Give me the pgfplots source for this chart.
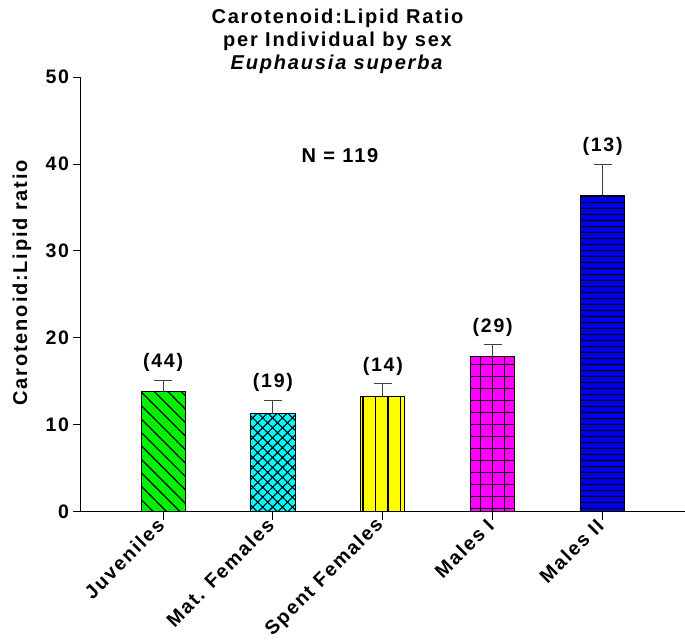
\documentclass[border=0pt]{standalone}
\usepackage{fontspec}
\setmainfont{Liberation Sans}[LetterSpace=9]
\usepackage{pgfplots}
\usepackage{pgfplotstable}
\pgfplotsset{compat=1.18}
\usetikzlibrary{patterns.meta}
\definecolor{bargreen}{RGB}{0,240,0}
\definecolor{barcyan}{RGB}{0,255,255}
\definecolor{baryellow}{RGB}{255,255,0}
\definecolor{barmagenta}{RGB}{255,0,255}
\definecolor{barblue}{RGB}{0,0,230}
\pgfplotstableread{
x y err top n
0 13.8 1.3 15.1 (44)
1 11.3 1.5 12.8 (19)
2 13.25 1.45 14.7 (14)
3 17.85 1.35 19.2 (29)
4 36.4 3.6 40.0 (13)
}\datatable
\begin{document}
\begin{tikzpicture}
\begin{axis}[
  name=ax,
  scale only axis,
  width=603.5pt, height=434pt,
  xmin=-0.75, xmax=4.75,
  ymin=0, ymax=50,
  axis lines=left,
  axis line style={-, line width=1pt, black},
  tick align=outside,
  major tick length=8pt,
  tick style={line width=1pt, black},
  xtick={0,1,2,3,4},
  xticklabels={Juveniles, Mat. Females, Spent Females, Males I, Males II},
  x tick label style={rotate=45, anchor=east, font=\bfseries\fontsize{19.5}{22}\selectfont},
  ytick={0,10,20,30,40,50},
  y tick label style={font=\bfseries\fontsize{19.5}{22}\selectfont},
  /pgf/number format/assume math mode=true,
  ylabel={Carotenoid:Lipid ratio},
  ylabel style={font=\bfseries\fontsize{20}{22}\selectfont, at={(axis description cs:-0.097,0.527)}, anchor=center},
  clip=false,
  error bars/error bar style={line width=1pt, black!75},
  error bars/error mark options={rotate=90, mark size=9pt, line width=1pt, black!75},
]
\addplot[ybar, bar width=44pt, fill=bargreen, draw=black, line width=0.8pt,
  postaction={pattern={Lines[angle=-45,distance=9.5pt,line width=1.2pt]}},
  error bars/.cd, y dir=plus, y explicit]
  coordinates {(0,13.8) +- (0,1.3)};
\addplot[ybar, bar width=44pt, fill=barcyan, draw=black, line width=0.8pt,
  postaction={pattern={Hatch[angle=45,distance=7pt,line width=1.1pt]}},
  error bars/.cd, y dir=plus, y explicit]
  coordinates {(1,11.3) +- (0,1.5)};
\addplot[ybar, bar width=44pt, fill=baryellow, draw=black, line width=0.8pt,
  postaction={pattern={Lines[angle=90,distance=12.5pt,line width=1.2pt]}},
  error bars/.cd, y dir=plus, y explicit]
  coordinates {(2,13.25) +- (0,1.45)};
\addplot[ybar, bar width=44pt, fill=barmagenta, draw=black, line width=0.8pt,
  postaction={pattern={Hatch[angle=0,distance=12pt,line width=1.2pt]}},
  error bars/.cd, y dir=plus, y explicit]
  coordinates {(3,17.85) +- (0,1.35)};
\addplot[ybar, bar width=44pt, fill=barblue, draw=black, line width=0.8pt,
  postaction={pattern={Lines[angle=0,distance=6pt,line width=1.3pt]}},
  error bars/.cd, y dir=plus, y explicit]
  coordinates {(4,36.4) +- (0,3.6)};
\addplot[only marks, mark=none, nodes near coords, point meta=explicit symbolic,
  nodes near coords style={font=\bfseries\fontsize{19.5}{22}\selectfont, anchor=south, yshift=5pt}]
  table[x=x, y=top, meta=n] {\datatable};
\node[font=\bfseries\fontsize{20}{22}\selectfont] at (axis cs:1.61,41) {N = 119};
\node[anchor=south, inner sep=0pt, align=center, font=\bfseries\fontsize{20}{23}\selectfont]
  at (rel axis cs:0.425,1) [yshift=3pt]
  {Carotenoid:Lipid Ratio\\per Individual by sex\\\textit{Euphausia superba}};
\end{axis}
\pgfresetboundingbox
\path ([xshift=-80.5pt,yshift=-129pt]ax.south west) rectangle ([yshift=77pt]ax.north east);
\end{tikzpicture}
\end{document}
